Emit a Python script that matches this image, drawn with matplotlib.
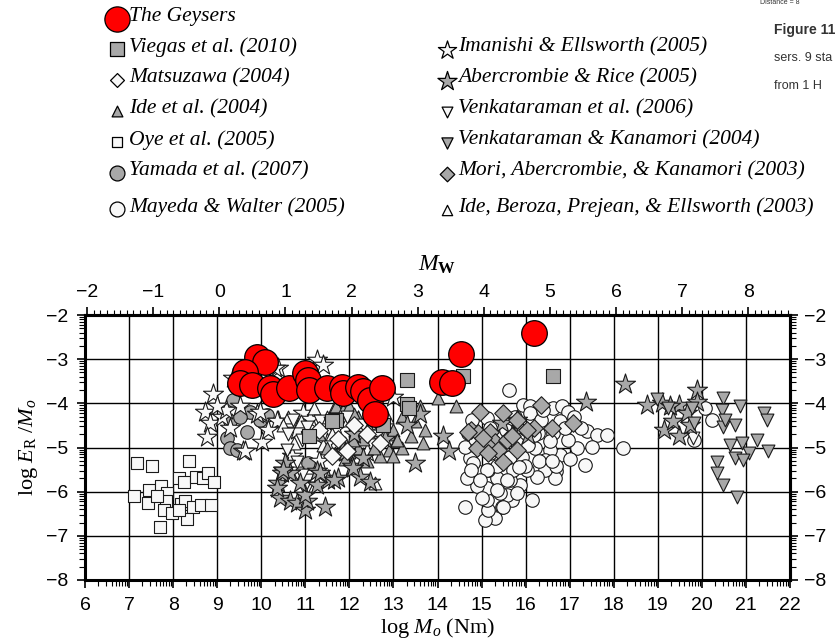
import numpy as np
import matplotlib
matplotlib.use("Agg")
import matplotlib.pyplot as plt
from matplotlib.ticker import FixedLocator

plt.rcParams['font.family'] = ['Liberation Sans', 'DejaVu Sans']
plt.rcParams['mathtext.fontset'] = 'custom'
plt.rcParams['mathtext.rm'] = 'Liberation Serif'
plt.rcParams['mathtext.it'] = 'Liberation Serif:italic'
plt.rcParams['mathtext.bf'] = 'Liberation Serif:bold'

# ---- data (log Mo, log ER/Mo) ----
geysers_x = [9.90, 10.09, 9.63, 9.52, 9.78, 10.20, 10.26, 10.64, 10.99, 11.07, 11.09, 11.49,
             11.83, 11.86, 12.20, 12.32, 12.47, 12.58, 12.73, 14.10, 14.34, 14.53, 16.19]
geysers_y = [-2.94, -3.06, -3.28, -3.55, -3.58, -3.66, -3.79, -3.66, -3.32, -3.47, -3.70, -3.66,
             -3.62, -3.77, -3.62, -3.73, -3.92, -4.24, -3.66, -3.51, -3.55, -2.89, -2.40]

viegas_x = [13.31, 13.31, 11.70, 11.60, 11.08, 12.77, 14.59, 16.63, 13.35]
viegas_y = [-3.47, -4.02, -4.38, -4.41, -4.75, -4.49, -3.38, -3.38, -4.10]

matsuzawa_x = [11.75, 11.94, 12.40, 11.30, 12.10, 12.70, 11.60]
matsuzawa_y = [-4.80, -5.07, -4.70, -4.60, -4.50, -4.90, -5.20]

ide04_x = [11.70, 11.85, 12.00, 12.20, 12.45, 12.60, 12.80, 12.90, 13.00, 13.05, 12.90, 12.70,
           12.40, 12.20, 12.00, 11.90, 12.55, 13.20, 13.50, 13.60, 13.72, 13.68, 14.02, 14.43,
           13.40, 11.30, 11.50, 12.30, 12.10, 13.20, 11.90, 13.00, 12.09, 11.67, 13.07]
ide04_y = [-4.05, -4.15, -4.05, -4.30, -4.55, -4.65, -4.45, -4.70, -4.60, -4.85, -5.05, -5.20,
           -5.30, -5.00, -5.10, -5.25, -5.00, -4.30, -4.40, -4.07, -4.60, -4.90, -3.89, -4.07,
           -4.75, -4.70, -5.00, -4.80, -4.25, -5.00, -4.90, -5.20, -4.83, -5.13, -4.83]

oye_x = [7.19, 7.51, 8.36, 8.13, 8.25, 8.52, 8.68, 8.80, 8.93, 7.12, 7.45, 7.44, 7.72,
         7.87, 7.84, 7.79, 7.97, 8.19, 8.27, 8.46, 8.63, 8.85, 8.32, 7.70, 7.63, 8.14]
oye_y = [-5.34, -5.42, -5.30, -5.70, -5.77, -5.67, -5.70, -5.58, -5.79, -6.09, -5.97, -6.26, -5.88,
         -6.02, -6.20, -6.41, -6.49, -6.28, -6.22, -6.34, -6.30, -6.30, -6.61, -6.81, -6.09, -6.41]

yamada_x = [9.37, 9.22, 9.28, 9.67, 9.59, 9.97, 10.12, 9.44, 11.07, 9.29, 9.74, 9.52]
yamada_y = [-3.92, -4.79, -5.02, -4.64, -4.22, -4.38, -4.26, -5.05, -5.36, -4.41, -4.19, -4.30]

mayeda_x = [15.63, 15.95, 16.10, 16.63, 16.82, 16.97, 17.10, 17.39, 17.61, 17.84, 17.50, 17.16,
            16.97, 16.78, 16.78, 16.55, 16.70, 16.67, 16.44, 16.44, 16.25, 16.21, 16.14, 16.02,
            15.91, 15.80, 15.87, 15.65, 15.68, 15.57, 15.46, 15.30, 15.08, 15.15, 15.12, 15.12,
            15.34, 15.15, 14.89, 14.89, 14.66, 14.62, 14.74, 14.62, 14.70, 14.78, 14.89, 15.30,
            15.42, 15.65, 16.10, 16.36, 16.29, 16.63, 18.20, 17.35, 20.07, 20.22, 19.81, 15.42,
            15.72, 15.19, 15.87, 15.12, 15.99, 15.34, 15.12, 14.81, 14.97, 15.34, 15.57, 15.80,
            15.49, 16.70, 16.18, 16.40, 16.55, 16.05, 15.75, 15.55, 16.90, 17.25, 14.85, 15.00,
            15.85, 16.30, 14.75, 15.20, 16.60, 17.00]
mayeda_y = [-3.70, -4.04, -4.07, -4.11, -4.07, -4.19, -4.30, -4.62, -4.71, -4.71, -4.98, -5.02,
            -4.83, -4.41, -5.17, -5.05, -5.54, -5.70, -5.28, -5.51, -5.66, -5.02, -6.19, -5.51,
            -5.21, -4.90, -5.85, -5.73, -6.19, -6.07, -6.34, -6.60, -6.64, -6.41, -6.19, -5.92,
            -5.70, -5.51, -5.54, -5.88, -5.70, -6.34, -5.24, -4.98, -4.68, -4.38, -4.98, -4.75,
            -5.21, -5.21, -4.22, -4.38, -4.68, -4.68, -5.00, -5.39, -4.11, -4.38, -4.83, -6.03,
            -5.51, -5.13, -4.49, -4.34, -5.43, -5.43, -5.51, -5.36, -5.73, -5.96, -5.73, -6.03,
            -6.34, -5.43, -4.72, -4.15, -4.85, -4.95, -4.30, -4.60, -4.55, -4.55, -4.80, -6.15,
            -5.45, -5.30, -5.50, -4.55, -5.30, -5.25]

imanishi_x = [8.91, 8.72, 8.84, 8.78, 9.10, 9.21, 9.52, 9.59, 10.01, 9.90, 10.39, 10.39, 8.99,
              9.63, 10.35, 10.80, 11.26, 11.41, 13.00, 10.31, 9.37, 9.97, 10.95, 11.10, 11.50,
              12.20, 12.60, 10.70, 11.30, 9.30, 10.15, 11.70, 12.40]
imanishi_y = [-3.79, -4.19, -4.45, -4.77, -4.32, -4.15, -4.07, -5.07, -4.87, -4.24, -4.41, -3.19,
              -4.07, -5.09, -4.41, -4.60, -3.02, -3.13, -3.85, -3.21, -3.43, -4.19, -4.22, -4.35,
              -4.90, -4.40, -4.50, -5.20, -5.30, -4.55, -4.60, -4.55, -5.10]

abercrombie_x = [10.54, 10.39, 10.43, 10.65, 10.80, 10.99, 11.03, 10.99, 11.45, 11.26, 11.52,
                 11.75, 12.05, 12.24, 10.65, 10.88, 12.32, 11.26, 10.46, 10.35, 10.50, 11.33,
                 11.64, 12.47, 12.09, 13.49, 14.13, 14.27, 17.36, 18.26, 18.76, 19.09, 19.13,
                 19.47, 19.35, 19.47, 19.88, 19.88, 19.73, 19.28, 19.66, 15.46, 15.80, 16.06,
                 15.90, 12.80, 13.30, 12.10, 11.90, 13.60]
abercrombie_y = [-5.36, -5.81, -6.15, -6.22, -6.26, -6.41, -6.22, -6.07, -6.34, -5.54, -5.73,
                 -5.70, -5.43, -5.66, -5.58, -5.81, -5.24, -5.85, -5.58, -5.92, -5.51, -5.58,
                 -5.73, -5.77, -5.47, -5.34, -4.75, -5.09, -3.96, -3.56, -4.04, -4.00, -4.60,
                 -4.75, -4.41, -4.04, -3.70, -3.96, -4.49, -4.07, -4.22, -4.45, -4.38, -4.72,
                 -4.55, -4.80, -4.50, -4.70, -5.10, -4.25]

venk06_x = [10.43, 10.80, 11.03, 11.03, 10.73, 11.03, 10.92, 10.58, 10.80, 10.92, 10.96, 11.33,
            11.94, 12.62, 19.79, 11.55, 12.30, 10.60]
venk06_y = [-5.58, -5.58, -5.73, -5.92, -4.38, -4.53, -4.83, -5.05, -5.32, -5.62, -5.92, -4.41,
            -4.30, -4.75, -4.79, -4.45, -4.50, -4.70]

vk04_x = [18.98, 19.24, 20.49, 20.45, 20.87, 21.40, 21.47, 20.49, 20.75, 20.64, 20.90, 21.24,
          21.51, 21.06, 20.75, 20.94, 20.34, 20.34, 20.49, 20.79, 19.77, 19.81, 20.53]
vk04_y = [-3.91, -4.11, -3.89, -4.15, -4.07, -4.22, -4.38, -4.53, -4.49, -4.94, -4.90, -4.83,
          -5.09, -5.13, -5.24, -5.28, -5.32, -5.58, -5.85, -6.11, -4.11, -4.45, -4.38]

mori_x = [14.96, 15.49, 16.36, 15.80, 16.18, 16.59, 17.08, 14.77, 14.93, 15.19, 15.30, 15.57,
          15.68, 15.12, 14.89, 15.38, 15.15, 15.49, 15.80, 16.02, 14.70, 15.04]
mori_y = [-4.19, -4.23, -4.04, -4.38, -4.56, -4.56, -4.45, -4.60, -4.68, -4.64, -4.87, -4.83,
          -4.75, -4.94, -5.02, -5.05, -5.13, -5.32, -5.05, -4.60, -4.64, -4.79]

ide03_x = [10.60, 10.90, 11.20, 11.50, 11.80, 12.13, 12.32, 11.98, 10.75, 11.60, 12.58, 11.40,
           12.85, 10.50, 11.67]
ide03_y = [-4.30, -4.40, -4.10, -4.30, -4.20, -4.60, -4.71, -4.38, -4.90, -4.70, -5.81, -4.95,
           -4.30, -4.50, -4.07]

xticks = list(range(6, 23))
yticks = list(range(-8, -1))
mw_ticks = list(range(-2, 9))

grey = '#a8a8a8'
white = '#f8f8f8'
ec = '#1a1a1a'

fig = plt.figure(figsize=(8.35, 6.42), dpi=100)
ax = fig.add_axes([85/835, 1-580/642, 705/835, 265/642])

for g in range(7, 22):
    ax.axvline(g, color='black', lw=1.0, zorder=0)
for g in range(-7, -2):
    ax.axhline(g, color='black', lw=1.0, zorder=0)

kw = dict(edgecolors=ec, linewidths=0.8)
ax.scatter(oye_x, oye_y, marker='s', s=75, facecolors=white, **kw, zorder=2)
ax.scatter(mayeda_x, mayeda_y, marker='o', s=95, facecolors=white, **kw, zorder=2)
ax.scatter(yamada_x, yamada_y, marker='o', s=95, facecolors=grey, **kw, zorder=2)
ax.scatter(imanishi_x, imanishi_y, marker='*', s=230, facecolors=white, **kw, zorder=3)
ax.scatter(ide03_x, ide03_y, marker='^', s=85, facecolors=white, **kw, zorder=3)
ax.scatter(ide04_x, ide04_y, marker='^', s=85, facecolors=grey, **kw, zorder=3)
ax.scatter(venk06_x, venk06_y, marker='v', s=85, facecolors=white, **kw, zorder=3)
ax.scatter(abercrombie_x, abercrombie_y, marker='*', s=230, facecolors=grey, **kw, zorder=4)
ax.scatter(mori_x, mori_y, marker='D', s=80, facecolors=grey, **kw, zorder=4)
ax.scatter(matsuzawa_x, matsuzawa_y, marker='D', s=80, facecolors=white, **kw, zorder=4)
ax.scatter(viegas_x, viegas_y, marker='s', s=95, facecolors=grey, **kw, zorder=5)
ax.scatter(vk04_x, vk04_y, marker='v', s=85, facecolors=grey, **kw, zorder=4)
ax.scatter(geysers_x, geysers_y, marker='o', s=340, facecolors='#ff0000', edgecolors='black',
           linewidths=0.9, zorder=6)

ax.set_xlim(6, 22)
ax.set_ylim(-8, -2)
for sp in ax.spines.values():
    sp.set_linewidth(2.2)

# GMT-like log frame ticks
xminor = [n + np.log10(k) for n in range(6, 22) for k in range(2, 10)]
yminor = [n + np.log10(k) for n in range(-8, -2) for k in range(2, 10)]
ax.xaxis.set_major_locator(FixedLocator(xticks))
ax.xaxis.set_minor_locator(FixedLocator(xminor))
ax.yaxis.set_major_locator(FixedLocator(yticks))
ax.yaxis.set_minor_locator(FixedLocator(yminor))
ax.set_xticklabels([str(t) for t in xticks])
ax.set_yticklabels([f'\u2212{abs(t)}' for t in yticks])
ax.tick_params(which='major', direction='out', length=6, width=1.2, labelsize=14, pad=6)
ax.tick_params(which='minor', direction='out', length=4, width=0.8)

axr = ax.secondary_yaxis('right')
axr.yaxis.set_major_locator(FixedLocator(yticks))
axr.yaxis.set_minor_locator(FixedLocator(yminor))
axr.set_yticklabels([f'\u2212{abs(t)}' for t in yticks])
axr.tick_params(which='major', direction='out', length=6, width=1.2, labelsize=14, pad=4)
axr.tick_params(which='minor', direction='out', length=4, width=0.8)
axr.spines['right'].set_linewidth(2.2)

axt = ax.secondary_xaxis('top', functions=(lambda x: (x - 9.05) / 1.5, lambda m: m * 1.5 + 9.05))
axt.xaxis.set_major_locator(FixedLocator(mw_ticks))
axt.xaxis.set_minor_locator(FixedLocator(np.arange(-2, 8.71, 0.1)))
axt.set_xticklabels([f'\u2212{abs(t)}' if t < 0 else str(t) for t in mw_ticks])
axt.tick_params(which='major', direction='out', length=6, width=1.2, labelsize=14, pad=4)
axt.tick_params(which='minor', direction='out', length=3.5, width=0.8)
axt.spines['top'].set_linewidth(2.2)
axt.set_xlabel(r'$M_{\mathbf{W}}$', fontsize=17, labelpad=10)

ax.set_xlabel(r'$\mathrm{log}\ M_o\ \mathrm{(Nm)}$', fontsize=16, labelpad=2)
ax.set_ylabel(r'$\mathrm{log}\ E_{\mathrm{R}}\ /M_o$', fontsize=16, labelpad=4)

# legend drawn in figure pixel space
lg = fig.add_axes([0, 0, 1, 1], zorder=10)
lg.set_xlim(0, 835)
lg.set_ylim(642, 0)
lg.axis('off')
tfont = dict(family='Liberation Serif', style='italic', fontsize=15.5, va='center', ha='left')
col1 = [('The Geysers', 'o', '#ff0000', 330, 17),
        ('Viegas et al. (2010)', 's', grey, 100, 47),
        ('Matsuzawa (2004)', 'D', white, 50, 78),
        ('Ide et al. (2004)', '^', grey, 60, 109),
        ('Oye et al. (2005)', 's', white, 55, 140),
        ('Yamada et al. (2007)', 'o', grey, 115, 171),
        ('Mayeda & Walter (2005)', 'o', white, 115, 207)]
col2 = [('Imanishi & Ellsworth (2005)', '*', white, 190, 47),
        ('Abercrombie & Rice (2005)', '*', grey, 210, 78),
        ('Venkataraman et al. (2006)', 'v', white, 60, 109),
        ('Venkataraman & Kanamori (2004)', 'v', grey, 65, 140),
        ('Mori, Abercrombie, & Kanamori (2003)', 'D', grey, 55, 171),
        ('Ide, Beroza, Prejean, & Ellsworth (2003)', '^', white, 55, 207)]
for lab, m, fc, sz, yy in col1:
    lg.scatter([117], [yy + 2], marker=m, s=sz, facecolors=fc, edgecolors='black', linewidths=0.9)
    lg.text(129, yy, lab, **tfont)
for lab, m, fc, sz, yy in col2:
    lg.scatter([447], [yy + 3], marker=m, s=sz, facecolors=fc, edgecolors='black', linewidths=0.9)
    lg.text(458, yy, lab, **tfont)

# cropped page text at the top right
lg.text(760, 3, 'Distance = 8', fontsize=5, color='#333333', va='center', ha='left')
lg.text(774, 30, 'Figure 11', fontsize=10, fontweight='bold', color='#333333', va='center',
        ha='left')
lg.text(774, 58, 'sers. 9 sta', fontsize=9, color='#333333', va='center', ha='left')
lg.text(774, 86, 'from 1 H', fontsize=9, color='#333333', va='center', ha='left')

fig.savefig('out.png', dpi=100)
